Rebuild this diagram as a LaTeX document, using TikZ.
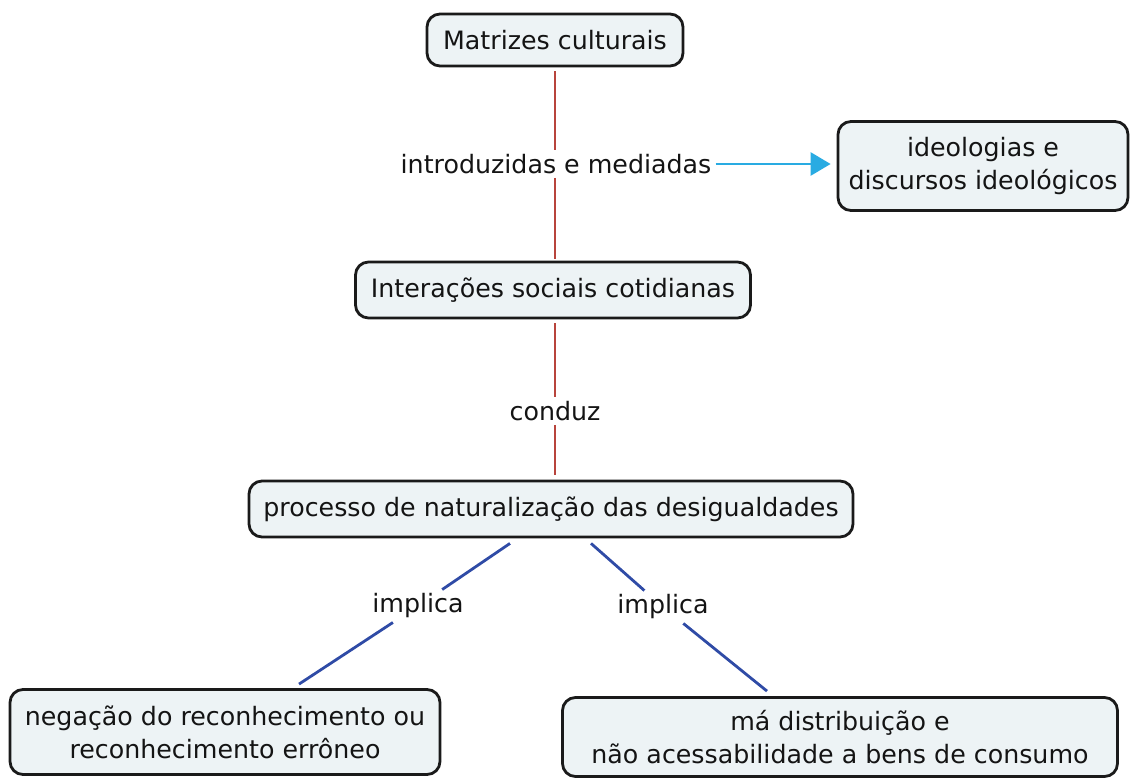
\documentclass[tikz,border=0pt]{standalone}
\usepackage{fontspec}
\setmainfont{DejaVu Sans}
\usetikzlibrary{arrows.meta}
\definecolor{boxfill}{HTML}{EDF3F5}
\definecolor{boxdraw}{HTML}{1A1A1A}
\definecolor{redline}{HTML}{B8443C}
\definecolor{blueline}{HTML}{2F4BA6}
\definecolor{cyanline}{HTML}{29ABE2}
\definecolor{txt}{HTML}{141414}
\tikzset{
  concept/.style={draw=boxdraw, line width=2.8pt, fill=boxfill, rounded corners=13pt,
    align=center, text=txt, inner sep=0pt, font=\fontsize{25.3}{33}\selectfont},
  linklabel/.style={text=txt, inner sep=4pt, font=\fontsize{25.3}{33}\selectfont},
  redlink/.style={draw=redline, line width=2.6pt},
  bluelink/.style={draw=blueline, line width=2.8pt},
  cyanlink/.style={draw=cyanline, line width=2.8pt, -{Triangle[length=20pt,width=23pt]}, shorten >=6pt},
}
\begin{document}
\begin{tikzpicture}[x=1pt,y=-1pt]
\useasboundingbox (0,0) rectangle (1131,778);
% concepts
\node[concept, minimum width=256pt, minimum height=52pt] (m) at (555,40) {Matrizes culturais};
\node[concept, minimum width=290pt, minimum height=89pt] (id) at (983,166) {ideologias e\\discursos ideológicos};
\node[concept, minimum width=395pt, minimum height=56pt] (it) at (553,290) {Interações sociais cotidianas};
\node[concept, minimum width=604pt, minimum height=56pt] (p) at (551,509) {processo de naturalização das desigualdades};
\node[concept, minimum width=430pt, minimum height=85pt] (n) at (225,732) {negação do reconhecimento ou\\reconhecimento errôneo};
\node[concept, minimum width=555pt, minimum height=79pt] (md) at (840,737) {má distribuição e\\não acessabilidade a bens de consumo};
% link labels
\node[linklabel] (l1) at (556,164) {introduzidas e mediadas};
\node[linklabel] (l2) at (555,411) {conduz};
\node[linklabel] (il) at (418,606) {implica};
\node[linklabel] (ir) at (663,607) {implica};
% helper coordinates
\coordinate (p1) at ([xshift=-41pt,yshift=-5pt]p.south);
\coordinate (p2) at ([xshift=40pt,yshift=-5pt]p.south);
\coordinate (n1) at ([xshift=74pt,yshift=4pt]n.north);
\coordinate (m1) at ([xshift=-73pt,yshift=5pt]md.north);
% connectors
\draw[redlink, shorten <=4pt] (m.south) -- (m.south |- l1.north);
\draw[redlink, shorten >=2pt] (m.south |- l1.south) -- (m.south |- it.north);
\draw[cyanlink] (l1.east) -- (l1.east -| id.west);
\draw[redlink, shorten <=4pt] (it.south -| l2) -- (l2.north);
\draw[redlink, shorten >=5pt] (l2.south) -- (l2 |- p.north);
\draw[bluelink] (p1) -- (il);
\draw[bluelink] (il) -- (n1);
\draw[bluelink] (p2) -- (ir);
\draw[bluelink] (ir) -- (m1);
\end{tikzpicture}
\end{document}
